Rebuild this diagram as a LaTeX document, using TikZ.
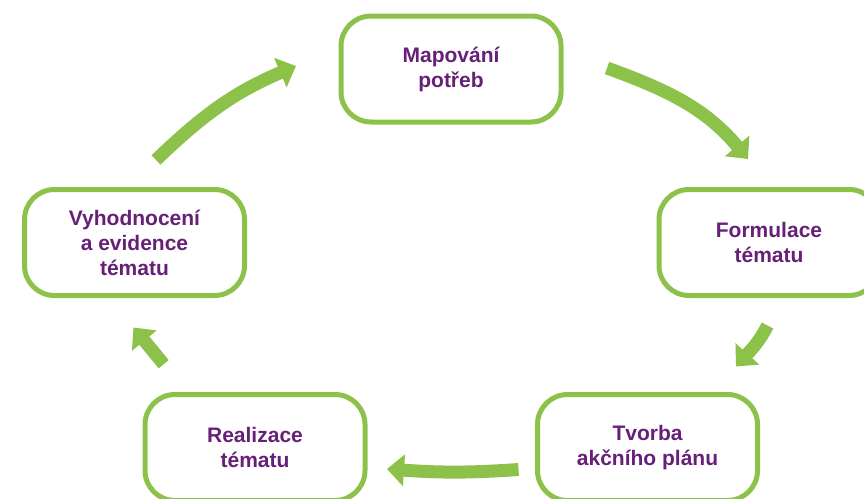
\documentclass[tikz,border=0pt]{standalone}
\usepackage{fontspec}
\setmainfont{Liberation Sans}
\usetikzlibrary{positioning,arrows.meta}
\definecolor{cgreen}{RGB}{140,194,74}
\definecolor{cpurple}{RGB}{102,32,120}
\tikzset{
x=1pt,
y=1pt,
node distance=173.5pt,
phase/.style={draw=cgreen, line width=5pt, rounded corners=30pt, fill=white,
  text=cpurple, font=\bfseries\fontsize{21}{25}\selectfont, align=center,
  minimum width=220pt, minimum height=106pt, inner sep=0pt, outer sep=0pt},
flow/.style={-{Triangle[length=17pt,width=31pt]}, draw=cgreen, line width=13pt},
}

\begin{document}
\begin{tikzpicture}
    \useasboundingbox (0,0) rectangle (864,-498);
    \clip (0,0) rectangle (864,-498);

    \node[phase] (M) at (451,-69) {Mapování\\potřeb};

    %right
    \node[phase,xshift=318pt,below of=M] (F) {Formulace\\tématu};
    \node[phase,yshift=-31.5pt,xshift=-121.5pt,below of=F] (T) {Tvorba\\akčního plánu};

    %left
    \node[phase,xshift=-316.5pt,below of=M] (V) {Vyhodnocení\\a evidence\\tématu};
    \node[phase,yshift=-31.5pt,xshift=120.5pt,below of=V] (R) {Realizace\\tématu};

    \draw[flow] ([shift={(21.5,29.5)}]V.north) to[out=44,in=203] ([shift={(-45,3)}]M.west);
    \draw[flow] ([shift={(46,1)}]M.east) to[out=-20,in=130] ([shift={(-21,30.5)}]F.north);
    \draw[flow] ([shift={(-1.5,-30)}]F.south) to[out=243,in=48] ([shift={(88.5,28)}]T.north);
    \draw[flow] ([shift={(-19,-22)}]T.west) to[out=184,in=-4] ([shift={(22,-21.5)}]R.east);
    \draw[flow] ([shift={(-91.3,30.3)}]R.north) -- ([shift={(-1,-32)}]V.south);

\end{tikzpicture}
\end{document}
